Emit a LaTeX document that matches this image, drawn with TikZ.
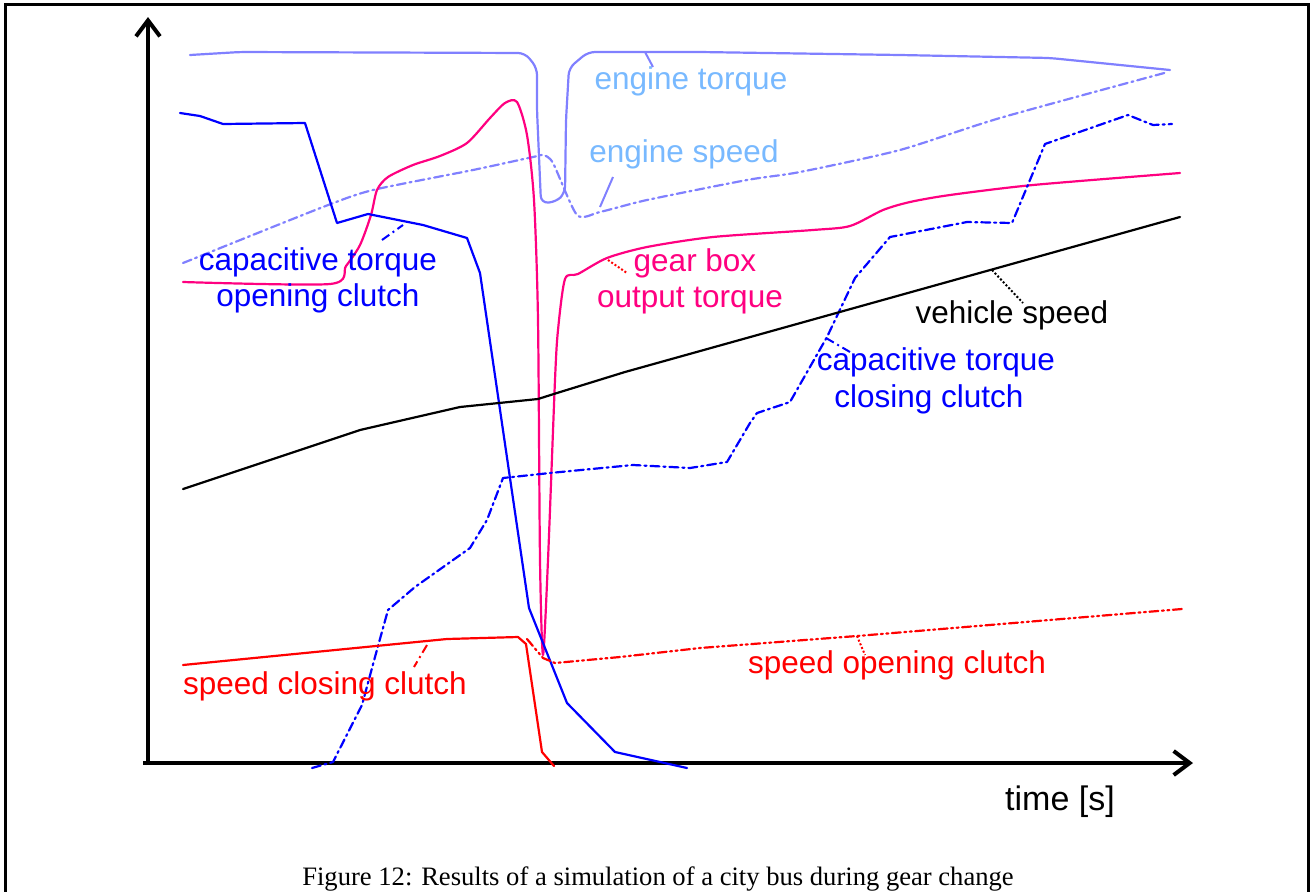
\documentclass[tikz,border=0pt]{standalone}
\usepackage{fontspec}
\setmainfont{Liberation Sans}
\newfontfamily\capfont{Liberation Serif}
\usetikzlibrary{arrows.meta}

\definecolor{lav}{RGB}{128,128,255}
\definecolor{sky}{RGB}{120,185,255}
\definecolor{pinkred}{RGB}{255,0,128}
\definecolor{pureblue}{RGB}{0,0,255}
\definecolor{purered}{RGB}{255,0,0}

\tikzset{
  curve/.style={line width=2.2pt, line join=round, line cap=round},
  dashdot/.style={dash pattern=on 9pt off 4pt on 2pt off 4pt},
  dashdotdot/.style={dash pattern=on 9pt off 3.5pt on 2pt off 3.5pt on 2pt off 3.5pt},
  leader/.style={line width=2pt},
  axis/.style={line width=4pt, -{Straight Barb[length=16pt,width=24pt]}},
  lbl/.style={inner sep=0pt, anchor=base, font=\fontsize{31.5}{37}\selectfont},
}

\begin{document}
\begin{tikzpicture}[x=1pt, y=-1pt]
\useasboundingbox (0,0) rectangle (1310,892);

% outer frame (open at the bottom)
\draw[line width=3pt] (5,900) -- (5,4) -- (1308,4) -- (1308,900);

% axes
\coordinate (origin) at (148,765);
\coordinate (ytip) at (148,17);
\coordinate (xstart) at (143,763);
\coordinate (xtip) at (1193,763);
\draw[axis] (origin) -- (ytip);
\draw[axis] (xstart) -- (xtip);

% engine torque
\draw[curve, lav, rounded corners=7pt] (190,55) -- (240,52) -- (525,53) -- (537,68) -- (537,110)
  -- (541,203) -- (556,202) -- (565,193) -- (566,120) -- (569,68) -- (588,52) -- (700,52)
  -- (900,55) -- (1050,58) -- (1170,70);

% engine speed
\draw[curve, lav, dashdot] plot[smooth, tension=0.4] coordinates {
  (183,263) (323,207) (373,190) (473,170) (533,157) (543,155) (553,163) (577,215)
  (600,212) (647,200) (747,180) (800,172) (900,150) (1000,118) (1168,72)};

% gear box output torque
\draw[curve, pinkred] plot[smooth, tension=0.45] coordinates {
  (183,282) (330,284) (346,266) (360,245) (371,215) (377,190) (388,177) (413,165)
  (440,156) (467,143) (490,118) (505,103) (517,102) (527,135) (534,200) (538,320)
  (540,560) (543,655) (548,560) (555,380) (558,330) (565,279) (578,274) (607,258)
  (647,247) (713,237) (813,230) (850,226) (883,210) (910,202) (950,195) (1033,185)
  (1180,173)};

% capacitive torque, opening clutch
\draw[curve, pureblue] (180,113) -- (200,116) -- (223,124) -- (305,123) -- (337,223)
  -- (368,214) -- (423,225) -- (467,238) -- (480,273) -- (529,608) -- (567,703)
  -- (615,752) -- (687,768);

% capacitive torque, closing clutch
\draw[curve, pureblue, dashdot] (312,768) -- (333,762) -- (362,705) -- (375,657) -- (388,610)
  -- (415,587) -- (470,548) -- (487,520) -- (503,478) -- (550,473) -- (633,465)
  -- (690,468) -- (727,462) -- (750,423) -- (757,413) -- (790,402) -- (827,337)
  -- (855,278) -- (890,237) -- (967,222) -- (1012,223) -- (1045,144) -- (1128,115)
  -- (1153,125) -- (1172,124);

% vehicle speed
\draw[curve, black] (183,489) -- (360,430) -- (460,407) -- (538,399) -- (557,393)
  -- (625,372) -- (1180,217);

% speed closing clutch
\draw[curve, purered] (183,665) -- (447,639) -- (518,637) -- (526,644) -- (542,752) -- (554,766);

% speed opening clutch
\draw[curve, purered, dashdotdot] (527,639) -- (543,658) -- (555,663) -- (620,657)
  -- (700,648) -- (857,636) -- (1182,609);

% labels
\node[lbl, text=sky] (etq) at (691,89) {engine torque};
\node[lbl, text=sky] (esp) at (684,162) {engine speed};
\node[lbl, text=pureblue] (oc1) at (318,270) {capacitive torque};
\node[lbl, text=pureblue] (oc2) at (318,306) {opening clutch};
\node[lbl, text=pinkred] (gb1) at (695,271) {gear box};
\node[lbl, text=pinkred] (gb2) at (690,307) {output torque};
\node[lbl, text=black] (vs) at (1012,323) {vehicle speed};
\node[lbl, text=pureblue] (cc1) at (936,370) {capacitive torque};
\node[lbl, text=pureblue] (cc2) at (929,407) {closing clutch};
\node[lbl, text=purered] (scc) at (325,694) {speed closing clutch};
\node[lbl, text=purered] (soc) at (897,673) {speed opening clutch};
\node[inner sep=0pt, anchor=base, font=\fontsize{34}{40}\selectfont] (time) at (1060,810) {time [s]};
\node[inner sep=0pt, anchor=base, font=\capfont\fontsize{26.6}{32}\selectfont] (cap) at (658,885)
  {Figure 12: Results of a simulation of a city bus during gear change};

% leader lines from curves to labels
\coordinate (le1) at (645,52);  \coordinate (le2) at (653,67);
\draw[leader, lav] (le1) -- (le2);
\coordinate (ls1) at (613,177); \coordinate (ls2) at (600,207);
\draw[leader, lav] (ls1) -- (ls2);
\coordinate (lo1) at (382,240); \coordinate (lo2) at (403,225);
\draw[leader, pureblue, dashdot] (lo1) -- (lo2);
\coordinate (lg1) at (608,260); \coordinate (lg2) at (627,273);
\draw[leader, purered, dotted] (lg1) -- (lg2);
\coordinate (lv1) at (992,270); \coordinate (lv2) at (1023,303);
\draw[leader, black, dotted] (lv1) -- (lv2);
\coordinate (lc1) at (826,338); \coordinate (lc2) at (850,352);
\draw[leader, pureblue, dashdot] (lc1) -- (lc2);
\coordinate (lr1) at (427,645); \coordinate (lr2) at (414,667);
\draw[leader, purered, dashdot] (lr1) -- (lr2);
\coordinate (lp1) at (857,636); \coordinate (lp2) at (865,655);
\draw[leader, purered, dotted] (lp1) -- (lp2);
\end{tikzpicture}
\end{document}
